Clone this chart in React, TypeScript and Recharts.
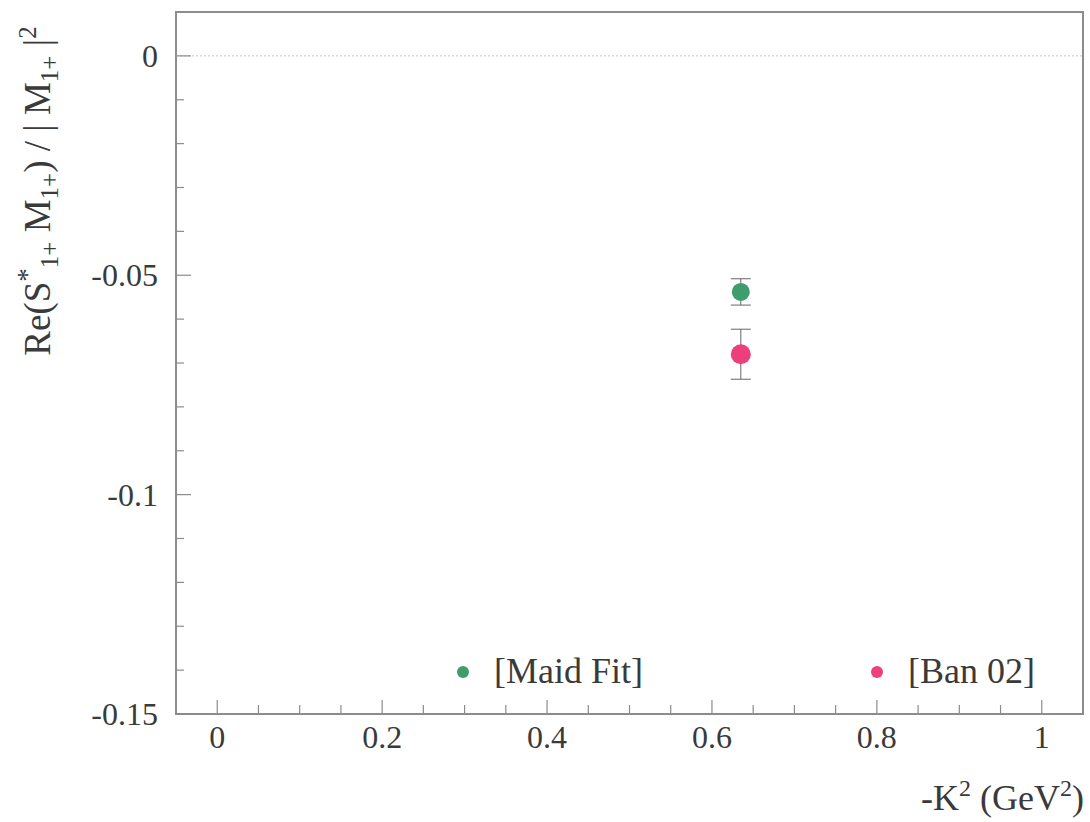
import React from 'react';
import {
  ScatterChart, Scatter, XAxis, YAxis, ErrorBar,
  ReferenceLine, ReferenceArea, Legend,
} from 'recharts';

// -K^2 position of the measurement (GeV^2)
const kSquared = [0.635];
const maidFitValues = [-0.0538];
const maidFitErrors = [0.003];
const ban02Values = [-0.068];
const ban02Errors = [0.0057];

const seriesNames = ['[Maid Fit]', '[Ban 02]'];
const seriesColors = ['#3f9c6d', '#ec3f7b'];

const xTicks = [0, 0.05, 0.1, 0.15, 0.2, 0.25, 0.3, 0.35, 0.4, 0.45, 0.5, 0.55, 0.6, 0.65, 0.7, 0.75, 0.8, 0.85, 0.9, 0.95, 1];
const xMajorTicks = [0, 0.2, 0.4, 0.6, 0.8, 1];
const yTicks = [-0.15, -0.14, -0.13, -0.12, -0.11, -0.1, -0.09, -0.08, -0.07, -0.06, -0.05, -0.04, -0.03, -0.02, -0.01, 0];
const yMajorTicks = [0, -0.05, -0.1, -0.15];

const FONT = '"Liberation Serif", "Times New Roman", serif';
const INK = '#3a3a3a';
const FRAME = '#8c8c8c';

const isMajor = (v: number, list: number[]) => list.some(m => Math.abs(m - v) < 1e-9);

const maidData = kSquared.map((x, i) => ({ x, y: maidFitValues[i], err: maidFitErrors[i] }));
const banData = kSquared.map((x, i) => ({ x, y: ban02Values[i], err: ban02Errors[i] }));

const XTick = ({ x, y, payload }: any) => {
  const major = isMajor(payload.value, xMajorTicks);
  return (
    <g>
      <line x1={x} x2={x} y1={y} y2={y - (major ? 14 : 9)} stroke={FRAME} strokeWidth={1.2} />
      {major && (
        <text x={x} y={y + 34} textAnchor="middle" fontFamily={FONT} fontSize={32} fill={INK}>
          {String(Math.round(payload.value * 10) / 10)}
        </text>
      )}
    </g>
  );
};

const YTick = ({ x, y, payload }: any) => {
  const major = isMajor(payload.value, yMajorTicks);
  return (
    <g>
      <line x1={x} x2={x + (major ? 15 : 8)} y1={y} y2={y} stroke={FRAME} strokeWidth={1.2} />
      {major && (
        <text x={x - 18} y={y + 11} textAnchor="end" fontFamily={FONT} fontSize={32} fill={INK}>
          {String(Math.round(payload.value * 100) / 100)}
        </text>
      )}
    </g>
  );
};

const YTitle = () => (
  <text
    x={50} y={191} transform="rotate(-90 50 191)" textAnchor="middle"
    fontFamily={FONT} fontSize={37} fill={INK}
  >
    Re(S<tspan dy={-14} fontSize={27}>*</tspan>
    <tspan dy={22} fontSize={25}>1+</tspan>
    <tspan dy={-8}> M</tspan>
    <tspan dy={8} fontSize={25}>1+</tspan>
    <tspan dy={-8}>) / | M</tspan>
    <tspan dy={8} fontSize={25}>1+</tspan>
    <tspan dy={-8}> |</tspan>
    <tspan dy={-14} fontSize={25}>2</tspan>
  </text>
);

const XTitle = () => (
  <text x={1084} y={810} textAnchor="end" fontFamily={FONT} fontSize={36} fill={INK}>
    -K<tspan dy={-14} fontSize={24}>2</tspan>
    <tspan dy={14}> (GeV</tspan>
    <tspan dy={-14} fontSize={24}>2</tspan>
    <tspan dy={14}>)</tspan>
  </text>
);

// legend sits inside the frame, near the bottom
const legendDotX = [463, 877];
const LegendContent = () => (
  <svg width={1090} height={60} style={{ display: 'block' }}>
    {seriesNames.map((name, i) => (
      <g key={name}>
        <circle cx={legendDotX[i]} cy={32} r={6} fill={seriesColors[i]} />
        <text x={legendDotX[i] + 31} y={43} fontFamily={FONT} fontSize={36} fill={INK}>{name}</text>
      </g>
    ))}
  </svg>
);

export default function App() {
  return (
    <div style={{ position: 'absolute', left: 0, top: 0, background: '#fff' }}>
      <ScatterChart width={1090} height={822} margin={{ top: 12, right: 7, left: 0, bottom: 0 }}>
        <XAxis
          type="number" dataKey="x" domain={[-0.05, 1.05]} ticks={xTicks} interval={0}
          allowDataOverflow axisLine={false} tickLine={false} tickSize={0} tickMargin={0}
          height={108} tick={<XTick />} label={{ content: () => <XTitle /> }}
        />
        <YAxis
          type="number" dataKey="y" domain={[-0.15, 0.01]} ticks={yTicks} interval={0}
          allowDataOverflow axisLine={false} tickLine={false} tickSize={0} tickMargin={0}
          width={176} tick={<YTick />} label={{ content: () => <YTitle /> }}
        />
        <ReferenceLine y={0} stroke="#c4c4c4" strokeDasharray="2 2" strokeWidth={1} />
        <ReferenceArea x1={-0.05} x2={1.05} y1={-0.15} y2={0.01} fill="none" stroke={FRAME} strokeWidth={2} />
        <Legend
          layout="horizontal" verticalAlign="middle" align="center"
          wrapperStyle={{ left: 0, top: 640, width: 1090 }}
          content={() => <LegendContent />}
        />
        <Scatter
          name={seriesNames[0]} data={maidData} isAnimationActive={false}
          shape={(p: any) => <circle cx={p.cx} cy={p.cy} r={9} fill={seriesColors[0]} />}
        >
          <ErrorBar dataKey="err" direction="y" width={10} stroke="#666" strokeWidth={1} isAnimationActive={false} />
        </Scatter>
        <Scatter
          name={seriesNames[1]} data={banData} isAnimationActive={false}
          shape={(p: any) => <circle cx={p.cx} cy={p.cy} r={10} fill={seriesColors[1]} />}
        >
          <ErrorBar dataKey="err" direction="y" width={10} stroke="#666" strokeWidth={1} isAnimationActive={false} />
        </Scatter>
      </ScatterChart>
    </div>
  );
}
